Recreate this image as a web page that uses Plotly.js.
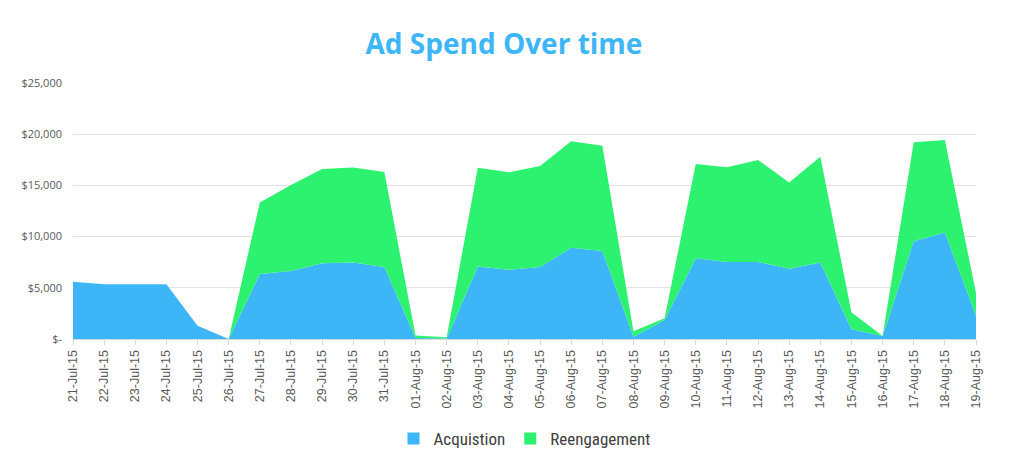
<!DOCTYPE html>
<html>
<head>
<meta charset="utf-8">
<script src="https://cdn.plot.ly/plotly-3.0.1.min.js"></script>
<style>html,body{margin:0;padding:0;background:#fff;}#chart{width:1014px;height:469px;}</style>
</head>
<body>
<div id="chart"></div>
<script>
const dates = ["21-Jul-15","22-Jul-15","23-Jul-15","24-Jul-15","25-Jul-15","26-Jul-15","27-Jul-15","28-Jul-15","29-Jul-15","30-Jul-15","31-Jul-15","01-Aug-15","02-Aug-15","03-Aug-15","04-Aug-15","05-Aug-15","06-Aug-15","07-Aug-15","08-Aug-15","09-Aug-15","10-Aug-15","11-Aug-15","12-Aug-15","13-Aug-15","14-Aug-15","15-Aug-15","16-Aug-15","17-Aug-15","18-Aug-15","19-Aug-15"];
const acquisition = [5600,5350,5350,5350,1300,0,6340,6630,7390,7480,7030,100,50,7090,6770,7030,8920,8600,230,1860,7880,7520,7520,6860,7480,950,290,9540,10390,2290];
const reengagement = [0,0,0,0,0,0,7000,8400,9200,9280,9280,230,110,9640,9510,9870,10390,10260,520,160,9220,9250,9970,8430,10330,1670,0,9670,9050,2190];
const seriesNames = ["Acquistion","Reengagement"];
const seriesColors = ["#3DB6F8","#2DF270"];
const yTickVals = [0,5000,10000,15000,20000,25000];
const yTickText = ["$-","$5,000","$10,000","$15,000","$20,000","$25,000"];

const seriesData = [acquisition, reengagement];
const traces = [];
seriesData.forEach((vals, i) => {
  traces.push({x: dates, y: vals, name: seriesNames[i], type: "scatter", mode: "none",
    stackgroup: "one", fillcolor: seriesColors[i], showlegend: false, legendgroup: "g" + i});
});
// legend entries with square swatches
seriesNames.forEach((nm, i) => {
  traces.push({x: [null], y: [null], name: nm, type: "scatter", mode: "markers",
    marker: {symbol: "square", size: 12, color: seriesColors[i]}, showlegend: true, legendgroup: "g" + i});
});

const layout = {
  width: 1014, height: 469,
  margin: {l: 73, r: 38, t: 83, b: 130},
  paper_bgcolor: "#fff", plot_bgcolor: "#fff",
  title: {text: "<b>Ad Spend Over time</b>", x: 0.497, xanchor: "center", y: 0.905, yref: "container", yanchor: "middle",
          font: {family: "Open Sans, sans-serif", size: 28, color: "#3DB6F8"}},
  xaxis: {type: "category", range: [0, dates.length - 1], tickangle: -90,
          tickfont: {family: "Liberation Sans, sans-serif", size: 12.5, color: "#595959"},
          showgrid: false, showline: true, linecolor: "#d9d9d9", linewidth: 1,
          ticks: "outside", ticklen: 5, tickcolor: "#d9d9d9", zeroline: false, fixedrange: true},
  yaxis: {range: [0, 25000], tickvals: yTickVals, ticktext: yTickText,
          tickfont: {family: "Open Sans, sans-serif", size: 11, color: "#595959"},
          ticklabelstandoff: 10,
          showgrid: true, gridcolor: "#e3e3e3", gridwidth: 1.3, zeroline: false, showline: false, ticklen: 0, fixedrange: true},
  showlegend: true,
  legend: {orientation: "h", x: 0.5, xanchor: "center", y: -0.39, yanchor: "middle",
           font: {family: "Liberation Sans Narrow, Roboto Condensed, sans-serif", size: 17, color: "#404040"},
           traceorder: "normal", itemwidth: 30}
};

Plotly.newPlot("chart", traces, layout, {displayModeBar: false, staticPlot: true});
</script>
</body>
</html>
